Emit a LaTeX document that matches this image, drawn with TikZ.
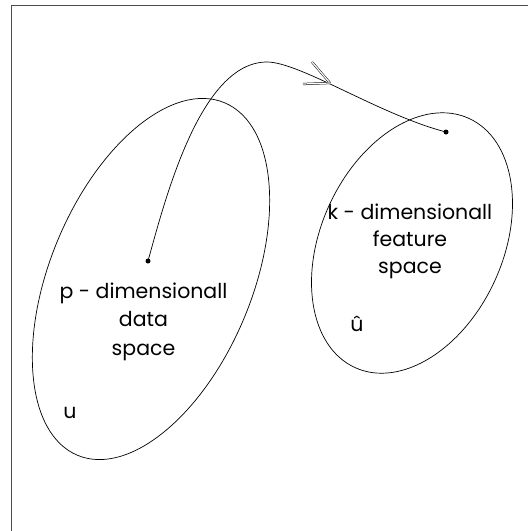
\documentclass[tikz,border=0pt]{standalone}
\usepackage{fontspec}
\setmainfont{Poppins}
\begin{document}
\begin{tikzpicture}[x=1pt,y=-1pt,
  lbl/.style={anchor=base,font=\fontsize{20.5}{25}\selectfont,inner sep=0pt},
  dot/.style={circle,fill=black,inner sep=0pt,minimum size=5pt},
  barb/.style={double=white,double distance=1.2pt,line width=0.5pt,line cap=butt}]
\useasboundingbox (0,0) rectangle (528,531);
\draw[line width=1pt,gray!60!black] (11,5) -- (540,5);
\draw[line width=1pt,gray!60!black] (11,5) -- (11,540);
% ellipses
\draw[line width=0.7pt] (151,279) circle[x radius=101, y radius=191, rotate=-22.6];
\draw[line width=0.7pt] (412,243) circle[x radius=91, y radius=137, rotate=-24.6];
% dots
\node[dot] (d1) at (148,261) {};
\node[dot] (d2) at (446,132) {};
\coordinate (top) at (267,62);
\coordinate (tip) at (330,83);
\draw[line width=0.7pt] (d1.center) .. controls (165,200) and (200,62) .. (top)
  .. controls (300,62) and (380,115) .. (d2.center);
% arrow barbs
\coordinate (b1) at (312,62);
\coordinate (b2) at (303,84);
\draw[barb] (b1) -- (tip);
\draw[barb] (b2) -- (tip);
% labels
\node[lbl] (p1) at (143.5,298) {p - dimensionall};
\node[lbl] (p2) at (143.5,326.5) {data};
\node[lbl] (p3) at (143.5,355) {space};
\node[lbl] (u1) at (70,418) {u};
\node[lbl] (k1) at (410,219) {k - dimensionall};
\node[lbl] (k2) at (410,246) {feature};
\node[lbl] (k3) at (410,273) {space};
\node[lbl] (u2) at (357,331) {û};
\end{tikzpicture}
\end{document}
